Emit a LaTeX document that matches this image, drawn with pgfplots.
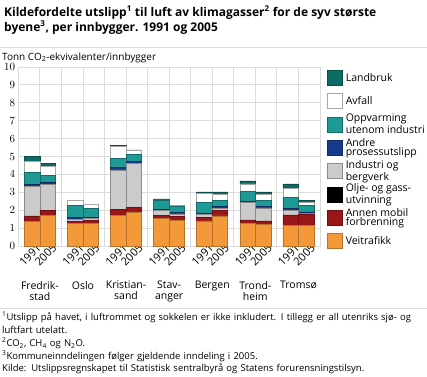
\documentclass[border=0pt]{standalone}
\usepackage{fontspec}
\setmainfont{Open Sans}
\usepackage{pgfplots}
\usepackage{pgfplotstable}
\pgfplotsset{compat=1.18}
\definecolor{landbruk}{HTML}{0E6B63}
\definecolor{oppv}{HTML}{1E9A96}
\definecolor{andre}{HTML}{17398A}
\definecolor{industri}{HTML}{CBCBCB}
\definecolor{annen}{HTML}{9A1619}
\definecolor{vei}{HTML}{F39939}
\definecolor{gridc}{HTML}{DCDCDC}

\pgfplotstableread{
x     vei  annen olje industri andre oppv avfall landbruk
0.64  1.38 0.30  0    1.64     0.13  0.67 0.60   0.28
1.36  1.72 0.29  0    1.44     0.11  0.38 0.50   0.19
2.64  1.27 0.11  0    0.11     0.10  0.69 0.26   0.00
3.36  1.27 0.15  0    0.11     0.07  0.51 0.22   0.00
4.64  1.72 0.33  0    2.20     0.12  0.54 0.65   0.06
5.36  1.87 0.29  0    2.47     0.09  0.39 0.21   0.05
6.64  1.55 0.17  0    0.26     0.07  0.52 0.01   0.05
7.36  1.42 0.22  0    0.15     0.08  0.37 0.01   0.04
8.64  1.40 0.20  0    0.15     0.10  0.58 0.52   0.07
9.36  1.68 0.30  0    0.13     0.09  0.37 0.32   0.13
10.64 1.27 0.19  0    0.97     0.07  0.54 0.43   0.17
11.36 1.21 0.19  0    0.73     0.07  0.36 0.33   0.13
12.64 1.16 0.58  0    0.27     0.10  0.61 0.51   0.24
13.36 1.16 0.63  0    0.03     0.08  0.38 0.15   0.14
}\data

\begin{document}
\begin{tikzpicture}
\useasboundingbox (0pt,0pt) rectangle (427pt,376pt);
\node[anchor=north west, align=left, font=\bfseries\fontsize{12}{15}\selectfont, inner sep=0pt] at (4pt,370pt)
  {Kildefordelte utslipp\textsuperscript{1} til luft av klimagasser\textsuperscript{2} for de syv største\\
   byene\textsuperscript{3}, per innbygger. 1991 og 2005};
\draw[gridc, line width=1pt] (0pt,329pt) -- (427pt,329pt);
\node[anchor=base west, inner sep=0pt, font=\fontsize{10}{12}\selectfont] at (2pt,316pt)
  {Tonn CO\textsubscript{2}-ekvivalenter/innbygger};

\begin{axis}[
  at={(18.3pt,130pt)}, anchor=south west, scale only axis,
  width=301.7pt, height=179pt,
  xmin=0, xmax=14, ymin=0, ymax=10,
  ybar stacked, bar width=0.72,
  ytick={0,1,...,10},
  xtick={0.64,1.36,2.64,3.36,4.64,5.36,6.64,7.36,8.64,9.36,10.64,11.36,12.64,13.36},
  xticklabels={1991,2005,1991,2005,1991,2005,1991,2005,1991,2005,1991,2005,1991,2005},
  minor xtick={0,1,...,14},
  xminorgrids=true, ymajorgrids=true, xmajorgrids=false,
  grid style={gridc, line width=0.9pt},
  minor grid style={gridc, line width=0.9pt},
  axis line style={gridc, line width=0.9pt},
  major tick length=0pt, minor tick length=0pt,
  tick label style={font=\fontsize{11}{13}\selectfont},
  xticklabel style={rotate=45, anchor=east, inner sep=0pt, xshift=5pt, yshift=-5pt},
  yticklabel style={inner sep=0pt, xshift=-3pt},
  clip=false,
  legend cell align=left,
  reverse legend,
  legend style={at={(1,1)}, anchor=north west, xshift=7pt, yshift=1pt,
    draw=none, fill=none, inner sep=0pt, row sep=0pt, column sep=3pt,
    font=\fontsize{10.5}{8.8}\selectfont,
    nodes={align=left, inner sep=0pt, minimum height=23.3pt, anchor=west}},
  legend image code/.code={\draw[#1,/tikz/.cd,line width=0.6pt] (0pt,-7.5pt) rectangle (15pt,7.5pt);},
]
\addplot[fill=vei, draw=vei!75!black, line width=0.6pt] table[x=x,y=vei]{\data};
\addlegendentry{Veitrafikk}
\addplot[fill=annen, draw=annen!75!black, line width=0.6pt] table[x=x,y=annen]{\data};
\addlegendentry{Annen mobil\\forbrenning}
\addplot[fill=black, draw=none] table[x=x,y=olje]{\data};
\addlegendentry{Olje- og gass-\\utvinning}
\addplot[fill=industri, draw=gray!90, line width=0.6pt] table[x=x,y=industri]{\data};
\addlegendentry{Industri og\\bergverk}
\addplot[fill=andre, draw=andre!75!black, line width=0.6pt] table[x=x,y=andre]{\data};
\addlegendentry{Andre\\prosessutslipp}
\addplot[fill=oppv, draw=oppv!70!black, line width=0.6pt] table[x=x,y=oppv]{\data};
\addlegendentry{Oppvarming\\utenom industri}
\addplot[fill=white, draw=gray!70, line width=0.6pt] table[x=x,y=avfall]{\data};
\addlegendentry{Avfall}
\addplot[fill=landbruk, draw=landbruk!75!black, line width=0.6pt] table[x=x,y=landbruk]{\data};
\addlegendentry{Landbruk}

\node[anchor=north, align=center, inner sep=0pt, font=\fontsize{10.5}{11}\selectfont, yshift=-35pt] at (axis cs:1,0) {Fredrik-\\stad};
\node[anchor=north, align=center, inner sep=0pt, font=\fontsize{10.5}{11}\selectfont, yshift=-35pt] at (axis cs:3,0) {Oslo};
\node[anchor=north, align=center, inner sep=0pt, font=\fontsize{10.5}{11}\selectfont, yshift=-35pt] at (axis cs:5,0) {Kristian-\\sand};
\node[anchor=north, align=center, inner sep=0pt, font=\fontsize{10.5}{11}\selectfont, yshift=-35pt] at (axis cs:7,0) {Stav-\\anger};
\node[anchor=north, align=center, inner sep=0pt, font=\fontsize{10.5}{11}\selectfont, yshift=-35pt] at (axis cs:9,0) {Bergen};
\node[anchor=north, align=center, inner sep=0pt, font=\fontsize{10.5}{11}\selectfont, yshift=-35pt] at (axis cs:11,0) {Trond-\\heim};
\node[anchor=north, align=center, inner sep=0pt, font=\fontsize{10.5}{11}\selectfont, yshift=-35pt] at (axis cs:13,0) {Tromsø};
\end{axis}

\draw[gridc, line width=1pt] (0pt,68pt) -- (427pt,68pt);
\node[anchor=north west, align=left, text width=425pt, inner sep=0pt, font=\fontsize{9.5}{12.8}\selectfont] at (2pt,64pt)
  {\textsuperscript{1}Utslipp på havet, i luftrommet og sokkelen er ikke inkludert. I tillegg er all utenriks sjø- og\\
   luftfart utelatt.\\
   \textsuperscript{2}CO\textsubscript{2}, CH\textsubscript{4} og N\textsubscript{2}O.\\
   \textsuperscript{3}Kommuneinndelingen følger gjeldende inndeling i 2005.\\
   Kilde: Utslippsregnskapet til Statistisk sentralbyrå og Statens forurensningstilsyn.};
\end{tikzpicture}
\end{document}
